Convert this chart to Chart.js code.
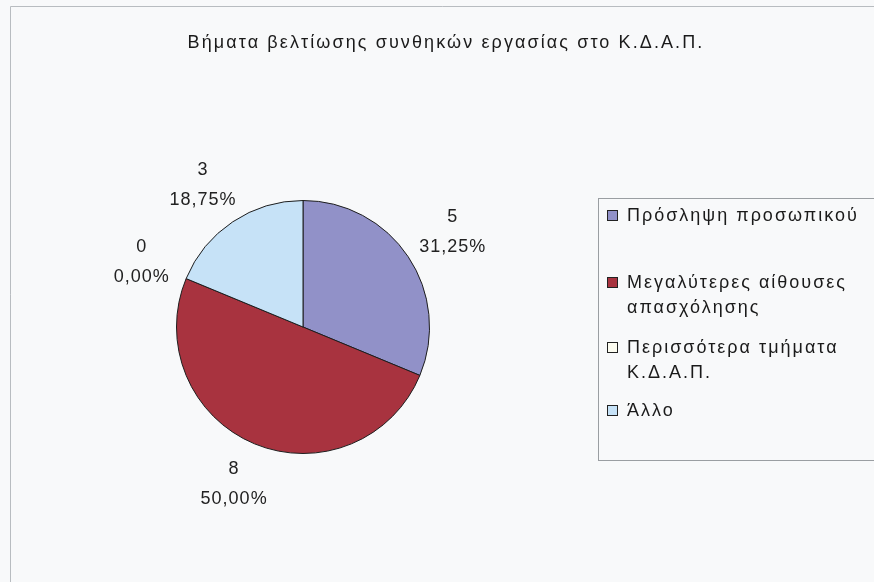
<!DOCTYPE html>
<html>
<head>
<meta charset="utf-8">
<script src="https://cdn.jsdelivr.net/npm/chart.js@4.4.1/dist/chart.umd.min.js"></script>
<style>
html,body{margin:0;padding:0;background:#f8f9fa;}
#wrap{width:874px;height:582px;position:relative;}
</style>
</head>
<body>
<div id="wrap"><canvas id="c" width="874" height="582"></canvas></div>
<script>
const titleText = 'Βήματα βελτίωσης συνθηκών εργασίας στο Κ.Δ.Α.Π.';
const categories = ['Πρόσληψη προσωπικού', 'Μεγαλύτερες αίθουσες απασχόλησης', 'Περισσότερα τμήματα Κ.Δ.Α.Π.', 'Άλλο'];
const counts = [5, 8, 0, 3];
const sliceColors = ['#9191c8', '#a8333f', '#fcfcf0', '#c6e2f7'];

const FONT = '"Liberation Sans", Arial, sans-serif';

function fmtPct(v, total) {
  return (v / total * 100).toFixed(2).replace('.', ',') + '%';
}

const decorPlugin = {
  id: 'decor',
  beforeDraw(chart) {
    const ctx = chart.ctx;
    ctx.save();
    ctx.fillStyle = '#f8f9fa';
    ctx.fillRect(0, 0, chart.width, chart.height);
    ctx.strokeStyle = '#b8bcc0';
    ctx.lineWidth = 1;
    ctx.beginPath();
    ctx.moveTo(10.5, 600); ctx.lineTo(10.5, 6.5); ctx.lineTo(900, 6.5);
    ctx.stroke();
    // title
    ctx.fillStyle = '#1a1a1a';
    ctx.font = '18px ' + FONT;
    ctx.letterSpacing = '2.1px';
    ctx.textAlign = 'center';
    ctx.textBaseline = 'middle';
    ctx.fillText(titleText, 446, 43);
    ctx.restore();
  },
  afterDraw(chart) {
    const ctx = chart.ctx;
    const meta = chart.getDatasetMeta(0);
    const data = chart.data.datasets[0].data;
    const total = data.reduce((a, b) => a + b, 0);
    ctx.save();
    ctx.font = '18px ' + FONT;
    ctx.letterSpacing = '1px';
    ctx.fillStyle = '#222';
    ctx.textAlign = 'center';
    ctx.textBaseline = 'middle';
    const lineGap = 30;
    meta.data.forEach((arc, i) => {
      const p = arc.getProps(['x', 'y', 'startAngle', 'endAngle', 'outerRadius'], true);
      const mid = (p.startAngle + p.endAngle) / 2;
      const l1 = String(data[i]);
      const l2 = fmtPct(data[i], total);
      const w = Math.max(ctx.measureText(l1).width, ctx.measureText(l2).width);
      const h = lineGap + 18;
      const r = p.outerRadius + 20;
      const cx = p.x + Math.cos(mid) * r + Math.cos(mid) * w / 2;
      const cy = p.y + Math.sin(mid) * r + Math.sin(mid) * h / 2;
      ctx.fillText(l1, cx, cy - lineGap / 2);
      ctx.fillText(l2, cx, cy + lineGap / 2);
    });
    ctx.restore();

    // legend
    ctx.save();
    ctx.strokeStyle = '#9a9ea2';
    ctx.lineWidth = 1;
    ctx.strokeRect(598.5, 198.5, 300, 262);
    ctx.font = '18px ' + FONT;
    ctx.letterSpacing = '2px';
    ctx.textAlign = 'left';
    ctx.textBaseline = 'middle';
    const rowY = [216, 283, 348, 411];
    const maxW = 245;
    chart.data.labels.forEach((lab, i) => {
      const words = lab.split(' ');
      const lines = [];
      let cur = '';
      words.forEach(wd => {
        const t = cur ? cur + ' ' + wd : wd;
        if (cur && ctx.measureText(t).width > maxW) { lines.push(cur); cur = wd; }
        else cur = t;
      });
      if (cur) lines.push(cur);
      const y = rowY[i];
      ctx.fillStyle = chart.data.datasets[0].backgroundColor[i];
      ctx.fillRect(607.5, y - 5.5, 10, 10);
      ctx.strokeStyle = '#222';
      ctx.strokeRect(607.5, y - 5.5, 10, 10);
      ctx.fillStyle = '#1a1a1a';
      lines.forEach((ln, k) => ctx.fillText(ln, 627, y + k * 25));
    });
    ctx.restore();
  }
};

new Chart(document.getElementById('c'), {
  type: 'pie',
  data: {
    labels: categories,
    datasets: [{
      data: counts,
      backgroundColor: sliceColors,
      borderColor: '#1e1e1e',
      borderWidth: 1
    }]
  },
  options: {
    responsive: false,
    animation: false,
    layout: { padding: { left: 176, right: 444, top: 200, bottom: 128 } },
    plugins: {
      legend: { display: false },
      tooltip: { enabled: false },
      title: { display: false }
    }
  },
  plugins: [decorPlugin]
});
</script>
</body>
</html>
